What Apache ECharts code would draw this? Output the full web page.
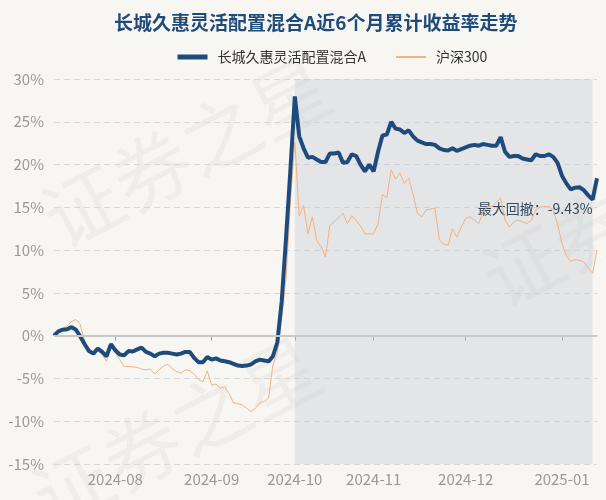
<!DOCTYPE html>
<html>
<head>
<meta charset="utf-8">
<title>长城久惠灵活配置混合A近6个月累计收益率走势</title>
<script src="https://cdn.jsdelivr.net/npm/echarts@6/dist/echarts.min.js"></script>
<style>
  html, body { margin: 0; padding: 0; background: #f8f6f2; }
  #chart { width: 606px; height: 500px; }
</style>
</head>
<body>
<div id="chart"></div>
<script>
// 交易日
const dates = [
  '2024-07-12', '2024-07-15', '2024-07-16', '2024-07-17', '2024-07-18', '2024-07-19',
  '2024-07-22', '2024-07-23', '2024-07-24', '2024-07-25', '2024-07-26',
  '2024-07-29', '2024-07-30', '2024-07-31',
  '2024-08-01', '2024-08-02', '2024-08-05', '2024-08-06', '2024-08-07', '2024-08-08', '2024-08-09',
  '2024-08-12', '2024-08-13', '2024-08-14', '2024-08-15', '2024-08-16',
  '2024-08-19', '2024-08-20', '2024-08-21', '2024-08-22', '2024-08-23',
  '2024-08-26', '2024-08-27', '2024-08-28', '2024-08-29', '2024-08-30',
  '2024-09-02', '2024-09-03', '2024-09-04', '2024-09-05', '2024-09-06',
  '2024-09-09', '2024-09-10', '2024-09-11', '2024-09-12', '2024-09-13',
  '2024-09-18', '2024-09-19', '2024-09-20',
  '2024-09-23', '2024-09-24', '2024-09-25', '2024-09-26', '2024-09-27', '2024-09-30',
  '2024-10-08', '2024-10-09', '2024-10-10', '2024-10-11',
  '2024-10-14', '2024-10-15', '2024-10-16', '2024-10-17', '2024-10-18',
  '2024-10-21', '2024-10-22', '2024-10-23', '2024-10-24', '2024-10-25',
  '2024-10-28', '2024-10-29', '2024-10-30', '2024-10-31',
  '2024-11-01', '2024-11-04', '2024-11-05', '2024-11-06', '2024-11-07', '2024-11-08',
  '2024-11-11', '2024-11-12', '2024-11-13', '2024-11-14', '2024-11-15',
  '2024-11-18', '2024-11-19', '2024-11-20', '2024-11-21', '2024-11-22',
  '2024-11-25', '2024-11-26', '2024-11-27', '2024-11-28', '2024-11-29',
  '2024-12-02', '2024-12-03', '2024-12-04', '2024-12-05', '2024-12-06',
  '2024-12-09', '2024-12-10', '2024-12-11', '2024-12-12', '2024-12-13',
  '2024-12-16', '2024-12-17', '2024-12-18', '2024-12-19', '2024-12-20',
  '2024-12-23', '2024-12-24', '2024-12-25', '2024-12-26', '2024-12-27',
  '2024-12-30', '2024-12-31',
  '2025-01-02', '2025-01-03', '2025-01-06', '2025-01-07', '2025-01-08', '2025-01-09',
  '2025-01-10', '2025-01-13', '2025-01-14'
]

// 基金累计收益率(%)
const fundReturns = [
  0.0, 0.5, 0.7, 0.75, 1.0, 0.7, -0.1, -1.0, -1.8, -2.1, -1.5, -1.9, -2.4, -1.0,
  -1.7, -2.2, -2.3, -1.8, -1.85, -1.6, -1.4, -1.9, -2.1, -2.4, -2.1, -2.0, -2.0, -2.1,
  -2.2, -2.1, -1.9, -1.9, -2.6, -3.1, -3.1, -2.5,
  -2.8, -2.65, -2.9, -3.0, -3.1, -3.3, -3.5, -3.55, -3.5, -3.35, -3.0, -2.8, -2.9,
  -3.0, -2.4, -0.8, 4.0, 11.5, 19.5,
  27.97, 23.3, 21.9, 20.8, 20.9, 20.6, 20.3, 20.3, 21.3, 21.3, 21.4, 20.2, 20.3,
  21.2, 21.0, 20.0, 19.2, 20.0,
  19.2, 21.5, 23.4, 23.5, 25.0, 24.2, 24.1, 23.7, 24.0, 23.3, 22.8, 22.6, 22.4,
  22.4, 22.3, 21.9, 21.7, 21.65, 21.9, 21.6, 21.8,
  22.0, 22.2, 22.3, 22.2, 22.4, 22.3, 22.2, 22.2, 23.2, 21.5, 20.9, 21.0, 21.0,
  20.7, 20.6, 20.5, 21.2, 21.0, 21.0, 21.2, 20.9, 20.2,
  18.7, 17.8, 17.1, 17.3, 17.35, 17.0, 16.4, 15.9, 18.4
]

// 沪深300累计收益率(%)
const hs300Returns = [
  0.0, 0.5, 0.8, 1.1, 1.65, 1.9, 1.3, -0.65, -1.6, -2.2, -1.8, -2.2, -3.0, -0.85,
  -2.0, -2.8, -3.6, -3.6, -3.65, -3.7, -3.9, -4.0, -3.9, -4.5, -4.0, -3.55, -3.35, -3.85,
  -4.2, -4.4, -4.0, -4.1, -4.5, -5.1, -5.4, -4.1,
  -5.8, -5.65, -6.15, -6.0, -6.8, -7.85, -7.95, -8.1, -8.5, -8.85, -8.5, -7.85, -7.7,
  -7.3, -3.4, -2.0, 2.2, 6.8, 15.8,
  22.6, 14.0, 15.2, 11.9, 13.9, 11.1, 10.4, 9.2, 12.9, 13.3, 13.8, 14.3, 13.1,
  14.0, 13.5, 12.8, 11.9, 11.9,
  11.9, 13.1, 16.5, 16.1, 19.4, 18.3, 19.0, 17.8, 18.4, 16.5, 14.3, 13.9, 14.7,
  14.8, 14.9, 11.2, 10.7, 10.55, 12.5, 11.5, 12.7,
  13.7, 13.9, 13.5, 13.1, 14.5, 15.1, 15.1, 15.6, 16.1, 13.5, 12.7, 13.3, 13.5,
  13.3, 13.1, 13.5, 14.7, 15.0, 15.1, 15.1, 14.7, 13.0,
  10.8, 9.3, 8.7, 8.9, 8.8, 8.6, 7.9, 7.3, 10.0
]

const seriesNames = ['长城久惠灵活配置混合A', '沪深300']

// 最大回撤区间
let peakIdx = 0
let troughIdx = 0
let maxDrawdown = 0
let runPeak = 0
fundReturns.forEach((v, i) => {
  if (v > fundReturns[runPeak]) runPeak = i
  const dd = (1 + v / 100) / (1 + fundReturns[runPeak] / 100) - 1
  if (dd < maxDrawdown) {
    maxDrawdown = dd
    peakIdx = runPeak
    troughIdx = i
  }
})

function isMonthStart(index) {
  return index > 0 && dates[index].slice(0, 7) !== dates[index - 1].slice(0, 7)
}

const chart = echarts.init(document.getElementById('chart'))

const watermark = (x, y) => ({
  type: 'text',
  x: x,
  y: y,
  rotation: Math.PI / 6.5,
  silent: true,
  z: 0,
  style: {
    text: '证券之星',
    fontSize: 78,
    fontFamily: 'Noto Sans CJK SC',
    fill: 'rgba(0, 0, 0, 0.035)'
  }
})

const option = {
  backgroundColor: '#f8f6f2',
  textStyle: {
    fontFamily: 'Noto Sans CJK SC'
  },
  graphic: [
    watermark(30, 190),
    watermark(20, 470),
    watermark(470, 250)
  ],
  title: {
    text: '长城久惠灵活配置混合A近6个月累计收益率走势',
    left: 109,
    top: 8,
    textStyle: {
      fontSize: 19,
      fontWeight: 'bold',
      color: '#1f4b7a'
    }
  },
  legend: {
    data: [
      { name: seriesNames[0], lineStyle: { width: 5 } },
      { name: seriesNames[1] }
    ],
    left: 170,
    top: 45,
    itemWidth: 30,
    itemHeight: 14,
    itemGap: 29,
    // 图例只画线，不画圆点
    itemStyle: {
      opacity: 0
    },
    textStyle: {
      fontSize: 14,
      color: '#333',
      padding: [0, 0, 0, 5]
    }
  },
  grid: {
    left: 54,
    right: 9,
    top: 79,
    bottom: 36
  },
  xAxis: {
    type: 'category',
    data: dates,
    boundaryGap: false,
    axisLine: {
      lineStyle: {
        color: '#999'
      }
    },
    axisTick: {
      interval: isMonthStart,
      length: 5,
      lineStyle: {
        color: '#999'
      }
    },
    axisLabel: {
      interval: isMonthStart,
      formatter: value => value.slice(0, 7),
      color: '#999',
      fontSize: 15,
      margin: 8
    }
  },
  yAxis: {
    type: 'value',
    min: -15,
    max: 30,
    interval: 5,
    axisLine: { show: false },
    axisTick: { show: false },
    axisLabel: {
      formatter: '{value}%',
      color: '#999',
      fontSize: 15,
      margin: 10
    },
    splitLine: {
      lineStyle: {
        color: '#d8d8d8',
        type: [6, 4]
      }
    }
  },
  series: [
    {
      type: 'line',
      data: [],
      z: 0,
      silent: true,
      markArea: {
        silent: true,
        itemStyle: {
          color: 'rgba(192, 203, 213, 0.38)'
        },
        label: {
          show: true,
          position: ['100%', '33.8%'],
          align: 'right',
          verticalAlign: 'middle',
          color: '#34495e',
          fontSize: 14,
          formatter: '最大回撤：' + (maxDrawdown * 100).toFixed(2) + '%'
        },
        data: [[
          { xAxis: dates[peakIdx] },
          { xAxis: dates[troughIdx] }
        ]]
      }
    },
    {
      name: seriesNames[1],
      type: 'line',
      data: hs300Returns,
      symbol: 'none',
      z: 2,
      lineStyle: {
        color: '#f2b380',
        width: 1
      },
      itemStyle: {
        color: '#f2b380'
      }
    },
    {
      name: seriesNames[0],
      type: 'line',
      data: fundReturns,
      symbol: 'none',
      z: 3,
      lineStyle: {
        color: '#1f4b7c',
        width: 4
      },
      itemStyle: {
        color: '#1f4b7c'
      },
      markLine: {
        silent: true,
        symbol: 'none',
        label: { show: false },
        lineStyle: {
          color: '#c8c8c8',
          width: 2,
          type: 'solid'
        },
        data: [{ yAxis: 0 }]
      }
    }
  ]
}

chart.setOption(option)

window.addEventListener('resize', () => {
  chart.resize()
})
</script>
</body>
</html>
